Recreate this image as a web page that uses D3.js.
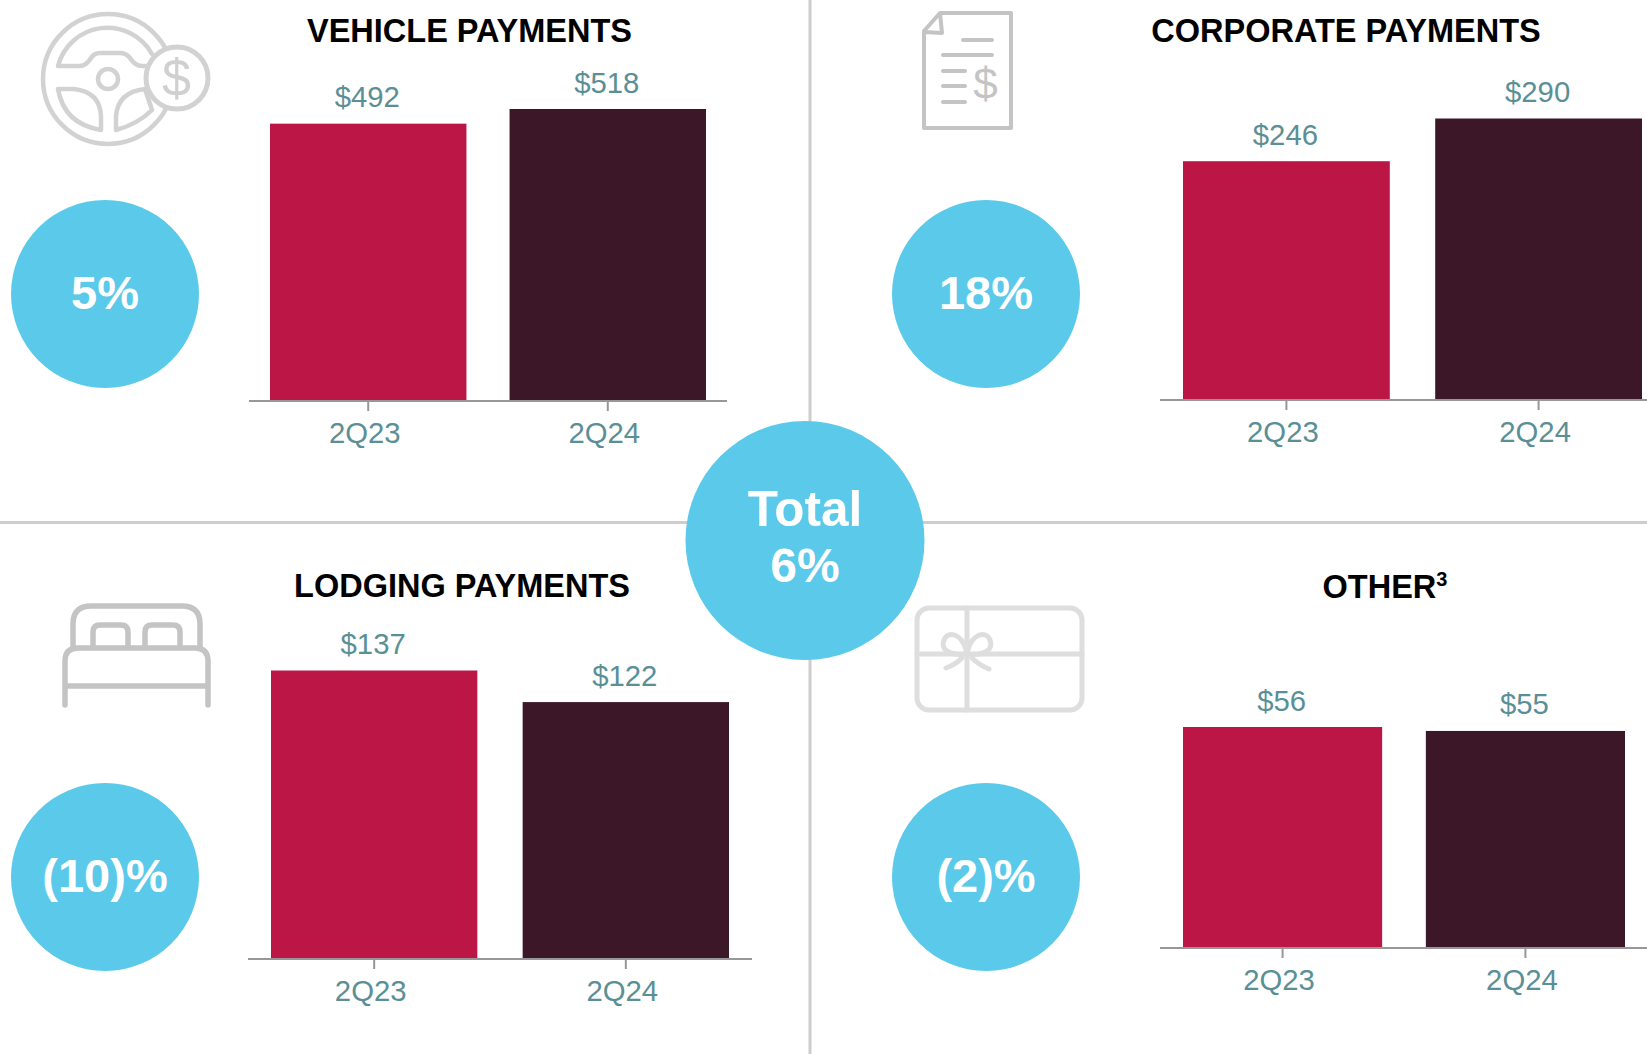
<!DOCTYPE html>
<html><head><meta charset="utf-8">
<script src="https://cdn.jsdelivr.net/npm/d3@7"></script>
<style>
html,body{margin:0;padding:0;background:#fff;overflow:hidden}
svg{display:block}
text{font-family:"Liberation Sans",Arial,sans-serif}
</style></head><body>
<svg id="c" width="1647" height="1054"></svg>
<script>
// Data
const periods = ["2Q23", "2Q24"];
const vehicleValues = [492, 518];
const corporateValues = [246, 290];
const lodgingValues = [137, 122];
const otherValues = [56, 55];
const titles = ["VEHICLE PAYMENTS", "CORPORATE PAYMENTS", "LODGING PAYMENTS", "OTHER"];
const growthLabels = ["5%", "18%", "(10)%", "(2)%"];
const totalLabels = ["Total", "6%"];

// Colours
const barColors = ["#bc1647", "#3c1728"];
const bubble = "#5ac9ea", labelColor = "#5b8f96", axisColor = "#979797", rule = "#cdcdcd";

// Layout of the four panels
const panels = [
 {values:vehicleValues, title:titles[0], tx:469.5, ty:41.5, growth:growthLabels[0], cx:105, cy:294,
  base:401, top:109, x0:270, x1:706, axisL:249, axisR:727},
 {values:corporateValues, title:titles[1], tx:1346, ty:41.5, growth:growthLabels[1], cx:986, cy:294,
  base:400, top:118.5, x0:1183, x1:1642, axisL:1160, axisR:1647},
 {values:lodgingValues, title:titles[2], tx:462, ty:597, growth:growthLabels[2], cx:105, cy:877,
  base:959, top:670.5, x0:271, x1:729, axisL:248, axisR:752},
 {values:otherValues, title:titles[3], tx:1385, ty:598, growth:growthLabels[3], cx:986, cy:877,
  base:948, top:727, x0:1183, x1:1625, axisL:1160, axisR:1647, sup:"3"}
];

const svg = d3.select("#c");

// Dividers
svg.append("line").attr("x1",810).attr("x2",810).attr("y1",0).attr("y2",1054).attr("stroke",rule).attr("stroke-width",3);
svg.append("line").attr("x1",0).attr("x2",1647).attr("y1",522.5).attr("y2",522.5).attr("stroke",rule).attr("stroke-width",3);

// Panels
panels.forEach(p=>{
  const g = svg.append("g");
  const x = d3.scaleBand().domain(periods).range([p.x0,p.x1]).paddingInner(0.18).paddingOuter(0);
  const y = d3.scaleLinear().domain([0,d3.max(p.values)]).range([p.base,p.top]);
  g.selectAll("rect").data(p.values).join("rect")
    .attr("x",(d,i)=>x(periods[i])).attr("width",x.bandwidth())
    .attr("y",d=>y(d)).attr("height",d=>p.base-y(d))
    .attr("fill",(d,i)=>barColors[i]);
  g.selectAll("text.v").data(p.values).join("text").attr("class","v")
    .attr("x",(d,i)=>x(periods[i])+x.bandwidth()/2-1).attr("y",d=>y(d)-16.5)
    .attr("text-anchor","middle").attr("font-size",29.3).attr("fill",labelColor)
    .text(d=>"$"+d);
  const axis = g.append("g").attr("transform",`translate(0,${p.base})`)
    .call(d3.axisBottom(x).tickSize(10).tickPadding(0));
  axis.select(".domain").remove();
  axis.selectAll(".tick line").attr("stroke",axisColor).attr("stroke-width",2);
  axis.selectAll(".tick text").attr("font-size",29.3).attr("font-family",'"Liberation Sans",Arial,sans-serif')
    .attr("fill",labelColor).attr("dy",0).attr("y",42).attr("dx",-3.5);
  g.append("line").attr("x1",p.axisL).attr("x2",p.axisR).attr("y1",p.base).attr("y2",p.base)
    .attr("stroke",axisColor).attr("stroke-width",2);
  const t = g.append("text").attr("x",p.tx).attr("y",p.ty).attr("text-anchor","middle")
    .attr("font-size",32.5).attr("font-weight",700).attr("fill","#000");
  t.append("tspan").text(p.title);
  if(p.sup) t.append("tspan").attr("font-size",20).attr("dy",-12).text(p.sup);
  g.append("circle").attr("cx",p.cx).attr("cy",p.cy).attr("r",94).attr("fill",bubble);
  g.append("text").attr("x",p.cx).attr("y",p.cy+15).attr("text-anchor","middle")
    .attr("font-size",47).attr("font-weight",700).attr("fill","#fff").text(p.growth);
});

// Total bubble
svg.append("circle").attr("cx",805).attr("cy",540.5).attr("r",119.5).attr("fill",bubble);
svg.selectAll("text.t").data(totalLabels).join("text").attr("class","t")
  .attr("x",805).attr("y",(d,i)=>526+i*56).attr("text-anchor","middle")
  .attr("font-size",(d,i)=>i?48:49.5).attr("font-weight",700).attr("fill","#fff").text(d=>d);

// Icons
const icon = (stroke,w)=>svg.append("g").attr("fill","none").attr("stroke",stroke).attr("stroke-width",w)
  .attr("stroke-linecap","round").attr("stroke-linejoin","round");
const dollar = (g,x,y,size,color)=>g.append("text").attr("x",x).attr("y",y).attr("text-anchor","middle")
  .attr("font-size",size).attr("fill",color).attr("stroke","none").text("$");

// Steering wheel
const w = icon("#d2d2d2",4.5);
w.append("circle").attr("cx",108).attr("cy",79).attr("r",65);
w.append("path").attr("d","M58,66 A51,51 0 0 1 152,54 M58,66 L80,66 Q86,66 91,58 Q94,53 100,53 L120,53 Q126,53 130,58 Q135,66 142,66 L150,66");
w.append("circle").attr("cx",108).attr("cy",79).attr("r",10);
w.append("path").attr("d","M58,89 L74,89 Q100,92 101,116 L101,130 Q64,124 58,89 Z");
w.append("path").attr("d","M116,130 L116,116 Q118,92 145,89 L152,110 Q138,124 116,130 Z");
const wc = icon("#d2d2d2",5);
wc.append("circle").attr("cx",177).attr("cy",78).attr("r",31).attr("fill","#fff");
dollar(wc,176.5,96,52,"#d0d0d0");

// Document
const doc = icon("#c4c4c4",4);
doc.append("path").attr("d","M940,13 L1011,13 L1011,128 L924,128 L924,31 Z M940,13 L942,33 L924,32");
doc.append("path").attr("d","M963,40 H992 M943,55 H992 M943,71 H965 M943,86 H965 M943,102 H965");
dollar(doc,985.5,99,44,"#c4c4c4");

// Bed
const bed = icon("#c4c4c4",5.5);
bed.append("path").attr("d","M73,647 V624 Q73,606 91,606 H182 Q200,606 200,624 V647");
bed.append("path").attr("d","M93,647 V632 Q93,625 100,625 H121 Q128,625 128,632 V647 M145,647 V632 Q145,625 152,625 H173 Q180,625 180,632 V647");
bed.append("path").attr("d","M65,705 V661 Q65,648 78,648 H195 Q208,648 208,661 V705 M65,686 H208");

// Gift card
const gift = icon("#dedede",5);
gift.append("rect").attr("x",917).attr("y",608).attr("width",165).attr("height",102).attr("rx",12);
gift.append("path").attr("d","M967,608 V710 M917,654 H1082");
gift.append("path").attr("d","M967,654 C950,656 940,650 944,640 C948,630 962,634 966,650 M967,654 C984,656 994,650 990,640 C986,630 972,634 968,650 M962,658 Q955,665 946,668 M972,658 Q979,665 989,669");
</script>
</body></html>
